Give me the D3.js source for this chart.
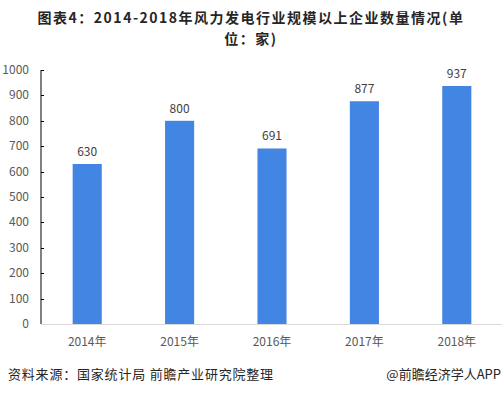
<!DOCTYPE html>
<html lang="zh">
<head>
    <meta charset="UTF-8"/>
    <title>风力发电行业规模以上企业数量</title>
    <script src="https://cdnjs.cloudflare.com/ajax/libs/d3/7.8.5/d3.min.js"></script>
    <style>
        body { margin: 0; background: #fff; }
        svg { display: block; font-family: "Noto Sans CJK SC", "Noto Sans", sans-serif; }
        .tick-label { font-size: 12px; fill: #595959; }
        .value-label { font-size: 12px; fill: #404040; }
    </style>
</head>
<body>
<div id="chart"></div>
<script>
    // Data
    const years = ["2014年", "2015年", "2016年", "2017年", "2018年"];
    const counts = [630, 800, 691, 877, 937];
    const yTicks = [0, 100, 200, 300, 400, 500, 600, 700, 800, 900, 1000];
    const titleLines = ["图表4：2014-2018年风力发电行业规模以上企业数量情况(单", "位：家)"];
    const sourceText = "资料来源：国家统计局 前瞻产业研究院整理";
    const brandText = "@前瞻经济学人APP";

    const width = 502;
    const height = 395;
    const margin = {top: 70, right: 0, bottom: 71, left: 41};

    const svg = d3.select("#chart")
        .append("svg")
        .attr("width", width)
        .attr("height", height);

    // Title, two lines
    svg.selectAll(".title")
        .data(titleLines)
        .enter()
        .append("text")
        .attr("class", "title")
        .attr("x", width / 2)
        .attr("y", (d, i) => 23 + i * 21)
        .attr("text-anchor", "middle")
        .attr("font-size", 14)
        .attr("font-weight", "bold")
        .attr("letter-spacing", 1.5)
        .attr("fill", "#262626")
        .text(d => d);

    // Scales
    const xScale = d3.scaleBand()
        .domain(years)
        .range([margin.left, width - margin.right + 1])
        .paddingInner(0.685)
        .paddingOuter(0.3425);

    const yScale = d3.scaleLinear()
        .domain([0, 1000])
        .range([height - margin.bottom, margin.top]);

    // Y axis
    svg.append("line")
        .attr("x1", margin.left)
        .attr("x2", margin.left)
        .attr("y1", yScale(1000))
        .attr("y2", yScale(0))
        .attr("stroke", "#000")
        .attr("stroke-width", 1);

    svg.selectAll(".y-tick")
        .data(yTicks)
        .enter()
        .append("line")
        .attr("class", "y-tick")
        .attr("x1", margin.left)
        .attr("x2", margin.left + 3)
        .attr("y1", d => Math.round(yScale(d)) + 0.5)
        .attr("y2", d => Math.round(yScale(d)) + 0.5)
        .attr("stroke", "#000");

    svg.selectAll(".y-label")
        .data(yTicks)
        .enter()
        .append("text")
        .attr("class", "tick-label")
        .attr("x", 29)
        .attr("y", d => yScale(d) + 4)
        .attr("text-anchor", "end")
        .text(d => d);

    // Bars
    svg.selectAll(".bar")
        .data(counts)
        .enter()
        .append("rect")
        .attr("class", "bar")
        .attr("x", (d, i) => xScale(years[i]))
        .attr("y", d => yScale(d))
        .attr("width", xScale.bandwidth())
        .attr("height", d => yScale(0) - yScale(d))
        .attr("fill", "#4285e3");

    // X axis
    svg.append("line")
        .attr("x1", margin.left)
        .attr("x2", width)
        .attr("y1", yScale(0) + 0.5)
        .attr("y2", yScale(0) + 0.5)
        .attr("stroke", "#d9d9d9")
        .attr("stroke-width", 1);

    svg.selectAll(".x-label")
        .data(years)
        .enter()
        .append("text")
        .attr("class", "tick-label")
        .attr("x", d => xScale(d) + xScale.bandwidth() / 2)
        .attr("y", yScale(0) + 22)
        .attr("text-anchor", "middle")
        .text(d => d);

    // Value labels
    svg.selectAll(".value-label")
        .data(counts)
        .enter()
        .append("text")
        .attr("class", "value-label")
        .attr("x", (d, i) => xScale(years[i]) + xScale.bandwidth() / 2)
        .attr("y", d => yScale(d) - 8)
        .attr("text-anchor", "middle")
        .text(d => d);

    // Footer
    svg.append("text")
        .attr("x", 8)
        .attr("y", 379)
        .attr("font-size", 13)
        .attr("fill", "#262626")
        .attr("letter-spacing", 0.8)
        .text(sourceText);

    svg.append("text")
        .attr("x", 501)
        .attr("y", 379)
        .attr("font-size", 13)
        .attr("fill", "#262626")
        .attr("text-anchor", "end")
        .text(brandText);
</script>
</body>
</html>
